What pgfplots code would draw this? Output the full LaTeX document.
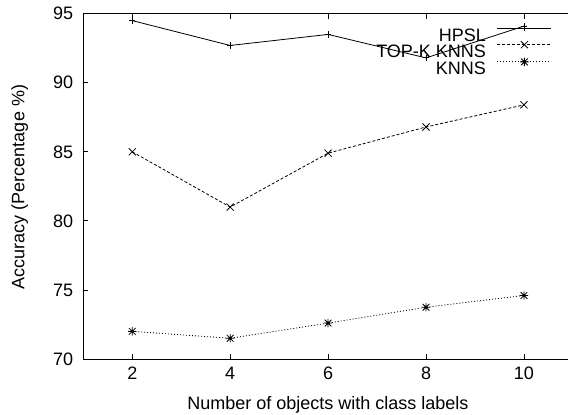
\documentclass[border=0pt]{standalone}
\usepackage{fontspec}
\setmainfont{Liberation Sans}
\usepackage{pgfplots}
\pgfplotsset{compat=1.18}
\pgfdeclareplotmark{gstar}{%
 \pgfpathmoveto{\pgfqpoint{-\pgfplotmarksize}{0pt}}\pgfpathlineto{\pgfqpoint{\pgfplotmarksize}{0pt}}%
 \pgfpathmoveto{\pgfqpoint{0pt}{-\pgfplotmarksize}}\pgfpathlineto{\pgfqpoint{0pt}{\pgfplotmarksize}}%
 \pgfpathmoveto{\pgfqpoint{-.8\pgfplotmarksize}{-.8\pgfplotmarksize}}\pgfpathlineto{\pgfqpoint{.8\pgfplotmarksize}{.8\pgfplotmarksize}}%
 \pgfpathmoveto{\pgfqpoint{-.8\pgfplotmarksize}{.8\pgfplotmarksize}}\pgfpathlineto{\pgfqpoint{.8\pgfplotmarksize}{-.8\pgfplotmarksize}}%
 \pgfusepathqstroke}
\begin{document}
\begin{tikzpicture}
\fontsize{18.07}{21}\selectfont
\begin{axis}[
 scale only axis, width=484.7bp, height=345.3bp,
 at={(0,0)}, anchor=south west,
 xmin=1, xmax=10.9, ymin=70, ymax=95,
 xtick={2,4,6,8,10}, ytick={70,75,80,85,90,95},
 axis x line*=box, axis y line*=left,
 tick align=inside,
 major tick length=5bp,
 every tick/.style={black, line width=0.8bp},
 axis line style={black, line width=0.8bp},
 /pgf/number format/assume math mode=true,
 tick label style={font=\fontsize{18.07}{21}\selectfont},
 yticklabel style={inner sep=0pt, anchor=east, xshift=-10bp},
 xticklabel style={inner sep=0pt, anchor=north, yshift=-7.7bp},
 clip=false,
 legend plot pos=right,
 legend cell align=right,
 legend image code/.code={\draw[mark repeat=2, mark phase=2, #1] plot coordinates {(0bp,6.5bp) (27bp,6.5bp) (54bp,6.5bp)};},
 legend style={draw=none, fill=none, at={(rel axis cs:0.967,0.968)}, anchor=north east,
   inner sep=0pt, row sep=0bp, column sep=11bp,
   nodes={inner sep=0pt, text height=13bp, text depth=0bp},
   font=\fontsize{18.07}{21}\selectfont},
]
\addplot[black, line width=0.8bp, mark=+, mark size=3.2bp, mark options={solid}] coordinates {(2,94.5) (4,92.7) (6,93.5) (8,91.8) (10,94.1)};
\addlegendentry{HPSL}
\addplot[black, line width=0.8bp, dash pattern=on 3bp off 2bp, mark=x, mark size=5bp, mark options={solid}] coordinates {(2,85.0) (4,81.0) (6,84.9) (8,86.8) (10,88.4)};
\addlegendentry{TOP-K KNNS}
\addplot[black, line width=0.8bp, dash pattern=on 1bp off 2bp, mark=gstar, mark size=4.2bp, mark options={solid}] coordinates {(2,72.0) (4,71.5) (6,72.6) (8,73.75) (10,74.6)};
\addlegendentry{KNNS}
\end{axis}
\node[anchor=base] at (244.6bp,-50.3bp) {Number of objects with class labels};
\node[rotate=90, anchor=base] at (-58.8bp,172bp) {Accuracy (Percentage \%)};
\pgfresetboundingbox
\path (-83.3bp,-56bp) rectangle (484.7bp,359bp);
\end{tikzpicture}
\end{document}
